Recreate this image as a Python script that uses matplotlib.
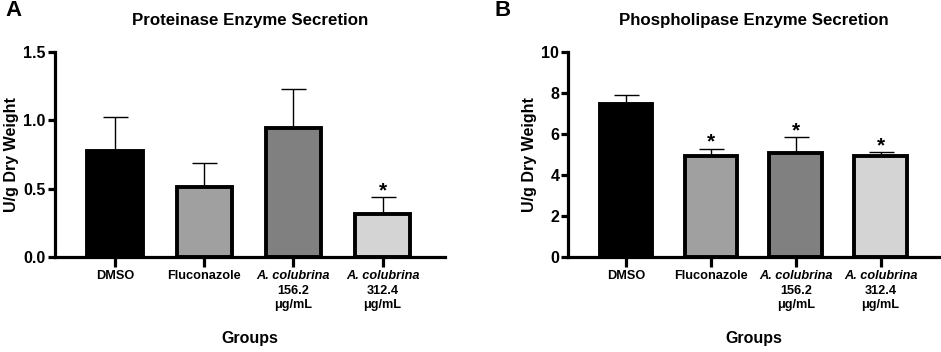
import matplotlib
matplotlib.use("Agg")
import matplotlib.pyplot as plt
from matplotlib.transforms import blended_transform_factory

plt.rcParams['font.family'] = ['Liberation Sans', 'DejaVu Sans']

# ---- data ----
groups = ["DMSO", "Fluconazole", "A. colubrina", "A. colubrina"]
group_sub = ["", "", "156.2\nμg/mL", "312.4\nμg/mL"]
group_italic = [False, False, True, True]
colors = ["#000000", "#a0a0a0", "#808080", "#d4d4d4"]

prot_mean = [0.775, 0.515, 0.945, 0.315]
prot_sd = [0.25, 0.17, 0.286, 0.125]
prot_sig = [False, False, False, True]

phos_mean = [7.45, 4.93, 5.08, 4.92]
phos_sd = [0.43, 0.36, 0.78, 0.22]
phos_sig = [False, True, True, True]

panels = [
    dict(letter="A", title="Proteinase Enzyme Secretion", mean=prot_mean, sd=prot_sd,
         sig=prot_sig, ylim=(0, 1.5), yticks=[0.0, 0.5, 1.0, 1.5],
         yticklabels=["0.0", "0.5", "1.0", "1.5"],
         pos=[54.5/941, 95/352, (445-54.5)/941, 205/352]),
    dict(letter="B", title="Phospholipase Enzyme Secretion", mean=phos_mean, sd=phos_sd,
         sig=phos_sig, ylim=(0, 10), yticks=[0, 2, 4, 6, 8, 10],
         yticklabels=["0", "2", "4", "6", "8", "10"],
         pos=[568.3/941, 95/352, (940-568.3)/941, 205/352]),
]

fig = plt.figure(figsize=(9.41, 3.52), dpi=100)

for p in panels:
    ax = fig.add_axes(p["pos"])
    x = list(range(len(groups)))
    ax.errorbar(x, p["mean"], yerr=[[0]*len(x), p["sd"]], fmt="none",
                ecolor="black", elinewidth=1.0, capsize=9, capthick=1.0, zorder=1)
    ax.bar(x, p["mean"], width=0.62, color=colors, edgecolor="black",
           linewidth=2.8, zorder=2)
    for xi, m, s, sg in zip(x, p["mean"], p["sd"], p["sig"]):
        if sg:
            ax.annotate("*", (xi, m + s), xytext=(0, 0.5), textcoords="offset points",
                        ha="center", va="baseline", fontsize=15, fontweight="bold")
    ax.set_xlim(-0.68, 3.7)
    ax.set_ylim(*p["ylim"])
    ax.set_yticks(p["yticks"])
    ax.set_yticklabels(p["yticklabels"], fontsize=11.5, fontweight="bold")
    ax.set_xticks(x)
    ax.set_xticklabels([""] * len(x))
    for s in ["top", "right"]:
        ax.spines[s].set_visible(False)
    for s in ["left", "bottom"]:
        ax.spines[s].set_linewidth(2.3)
    ax.tick_params(axis="y", length=5, width=2.3, pad=1.5)
    ax.tick_params(axis="x", length=7, width=2.3)
    ax.set_ylabel("U/g Dry Weight", fontsize=11.5, fontweight="bold", labelpad=3)

    trans = blended_transform_factory(ax.transData, fig.transFigure)
    for xi, g, sub, it in zip(x, groups, group_sub, group_italic):
        ax.text(xi, 1 - 270/352, g, transform=trans, ha="center", va="top",
                fontsize=9.2, fontweight="bold", style="italic" if it else "normal")
        if sub:
            ax.text(xi, 1 - 285/352, sub, transform=trans, ha="center", va="top",
                    fontsize=9.2, fontweight="bold", linespacing=1.2)
    tx = blended_transform_factory(ax.transAxes, fig.transFigure)
    ax.text(0.5, 1 - 338/352, "Groups", transform=tx, ha="center", va="center",
            fontsize=11.5, fontweight="bold")
    ax.text(0.5, 1 - 21/352, p["title"], transform=tx, ha="center", va="center",
            fontsize=12.2, fontweight="bold")

fig.text(5/941, 1 - 11/352, "A", ha="left", va="center", fontsize=16, fontweight="bold")
fig.text(495/941, 1 - 11/352, "B", ha="left", va="center", fontsize=16, fontweight="bold")

fig.savefig("out.png", dpi=100)
